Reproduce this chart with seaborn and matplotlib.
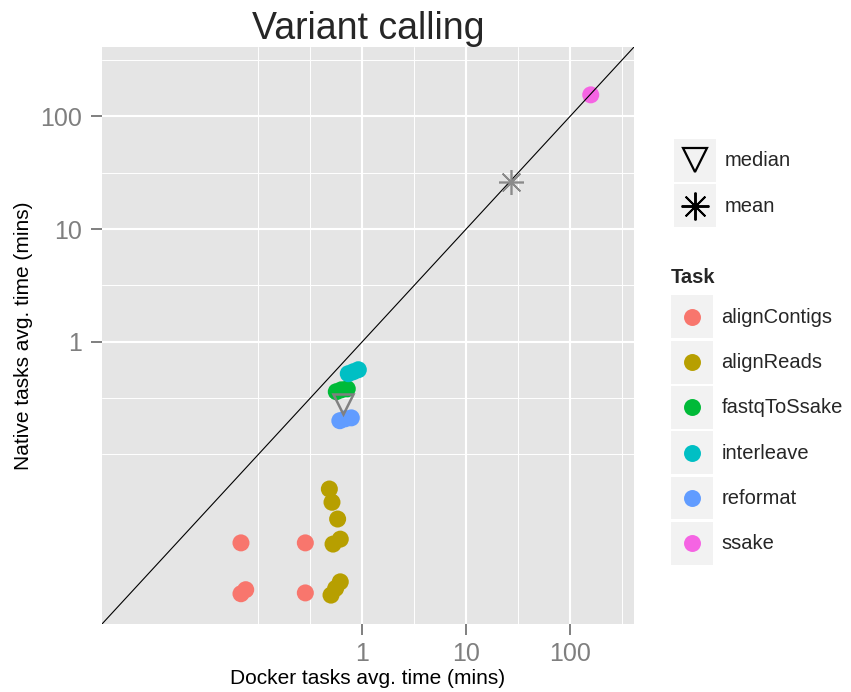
import numpy as np
import pandas as pd
import matplotlib
matplotlib.use("Agg")
import matplotlib.pyplot as plt
import seaborn as sns
from matplotlib.lines import Line2D
from matplotlib.patches import Rectangle
from matplotlib.legend_handler import HandlerBase

# values (minutes)
aligncontigs_docker = [0.068, 0.283, 0.068, 0.0755, 0.283]
aligncontigs_native = [0.0164, 0.0164, 0.0058, 0.0063, 0.0059]

alignreads_docker = [0.482, 0.511, 0.579, 0.523, 0.614, 0.500, 0.614, 0.554]
alignreads_native = [0.0493, 0.0376, 0.0267, 0.0160, 0.0177, 0.00564, 0.0074, 0.00647]

fastq_docker = [0.562, 0.628, 0.717]
fastq_native = [0.360, 0.374, 0.382]

interleave_docker = [0.733, 0.819, 0.916]
interleave_native = [0.520, 0.541, 0.564]

reformat_docker = [0.608, 0.687, 0.784]
reformat_native = [0.199, 0.207, 0.211]

ssake_docker = [158.0]
ssake_native = [155.0]

median_point = (0.652, 0.282)
mean_point = (26.9, 26.3)

tasks = ["alignContigs", "alignReads", "fastqToSsake", "interleave", "reformat", "ssake"]
task_colors = ["#F8766D", "#B79F00", "#00BA38", "#00BFC4", "#619CFF", "#F564E3"]

major_ticks = [1, 10, 100]
tick_labels = ["1", "10", "100"]

docker_all = [aligncontigs_docker, alignreads_docker, fastq_docker,
              interleave_docker, reformat_docker, ssake_docker]
native_all = [aligncontigs_native, alignreads_native, fastq_native,
              interleave_native, reformat_native, ssake_native]

df = pd.DataFrame({
    "docker": np.concatenate(docker_all),
    "native": np.concatenate(native_all),
    "Task": np.repeat(tasks, [len(d) for d in docker_all]),
})

sns.set_theme(style="white")
plt.rcParams["font.family"] = ["Liberation Sans", "DejaVu Sans"]

fig = plt.figure(figsize=(8.51, 6.92), dpi=100)
ax = fig.add_axes([102 / 851, 68 / 692, 532 / 851, 577 / 692])
ax.set_facecolor("#E5E5E5")
for s in ax.spines.values():
    s.set_visible(False)

sns.scatterplot(data=df, x="docker", y="native", hue="Task", hue_order=tasks,
                palette=task_colors, s=150, linewidth=0, legend=False, ax=ax,
                zorder=3)

ax.set_xscale("log")
ax.set_yscale("log")
lims = (10 ** -2.505, 10 ** 2.615)
ax.set_xlim(lims)
ax.set_ylim(lims)

# y = x reference line
ax.axline((1, 1), (10, 10), color="black", lw=0.8, zorder=4)

ax.plot([median_point[0]], [median_point[1]], marker="v", ms=15, mfc="none",
        mec="#808080", mew=1.8, ls="none", zorder=5)
ax.plot([mean_point[0]], [mean_point[1]], marker=(8, 2, 0), ms=18,
        color="#8A8A8A", mec="#8A8A8A", mew=1.2, ls="none", zorder=5)

minor = [10 ** -1, 10 ** -0.5, 10 ** 0.5, 10 ** 1.5, 10 ** 2.5]
for axis in (ax.xaxis, ax.yaxis):
    axis.set_major_locator(matplotlib.ticker.FixedLocator(major_ticks))
    axis.set_major_formatter(matplotlib.ticker.FixedFormatter(tick_labels))
    axis.set_minor_locator(matplotlib.ticker.FixedLocator(minor))
    axis.set_minor_formatter(matplotlib.ticker.NullFormatter())
ax.grid(which="major", color="white", lw=1.5)
ax.grid(which="minor", color="white", lw=0.7)
ax.set_axisbelow(True)
ax.tick_params(which="major", length=8, width=1.4, color="#7F7F7F",
               labelcolor="#7F7F7F", labelsize=18, pad=5,
               bottom=True, left=True)
ax.tick_params(axis="y", which="major", pad=6.5)
ax.tick_params(which="minor", length=0)

ax.set_xlabel("Docker tasks avg. time (mins)", fontsize=15, color="black", labelpad=2)
ax.set_ylabel("Native tasks avg. time (mins)", fontsize=15, color="black", labelpad=5)
ax.set_title("Variant calling", fontsize=27, pad=6)


class KeyHandler(HandlerBase):
    # grey key square with the marker centred in it, ggplot style
    def create_artists(self, legend, orig_handle, xdescent, ydescent,
                       width, height, fontsize, trans):
        bg = Rectangle((-xdescent, -ydescent), width, height,
                       facecolor="#F2F2F2", edgecolor="none", transform=trans)
        mk = Line2D([width / 2 - xdescent], [height / 2 - ydescent])
        mk.update_from(orig_handle)
        mk.set_transform(trans)
        return [bg, mk]


stat_handles = [
    Line2D([], [], marker="v", ms=17, mfc="none", mec="black", mew=1.6, ls="none"),
    Line2D([], [], marker=(8, 2, 0), ms=20, color="black", mec="black", mew=1.4, ls="none"),
]
task_handles = [Line2D([], [], marker="o", ms=12.2, mfc=c, mec="none", ls="none")
                for c in task_colors]

leg_kw = dict(frameon=False, borderpad=0, borderaxespad=0, handlelength=2.1,
              handleheight=2.9, labelspacing=0.12, handletextpad=0.4,
              fontsize=14.5, handler_map={Line2D: KeyHandler()}, loc="upper left")
leg1 = fig.legend(stat_handles, ["median", "mean"],
                  bbox_to_anchor=(674 / 851, 1 - 139 / 692), **leg_kw)
leg2 = fig.legend(task_handles, tasks, title="Task", alignment="left",
                  title_fontproperties={"weight": "bold", "size": 14.5},
                  bbox_to_anchor=(671 / 851, 1 - 268 / 692), **leg_kw)
leg2._legend_box.sep = 6.0

fig.savefig("out.png", dpi=100)
